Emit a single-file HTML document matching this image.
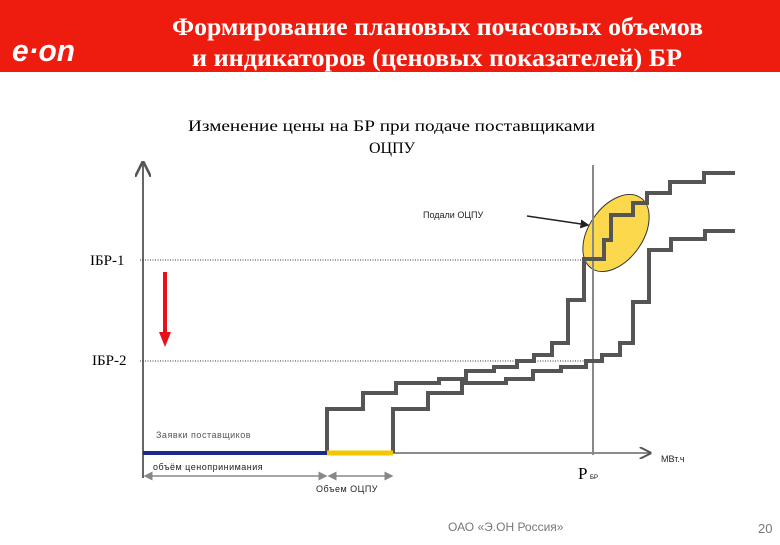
<!DOCTYPE html>
<html><head><meta charset="utf-8"><style>
body{margin:0;width:780px;height:540px;background:#fff;overflow:hidden;font-family:"Liberation Sans",sans-serif}
</style></head><body>
<svg width="780" height="540">
<rect x="0" y="0" width="780" height="72" fill="#ee1c0f"/>
<text x="12" y="61" fill="#fff" font-size="31" font-weight="bold" font-style="italic" font-family="Liberation Sans" textLength="63" lengthAdjust="spacingAndGlyphs">e·on</text>
<text x="172" y="35" fill="#fff" font-size="25" font-weight="bold" font-family="Liberation Serif" textLength="531" lengthAdjust="spacingAndGlyphs">Формирование плановых почасовых объемов</text>
<text x="192" y="66" fill="#fff" font-size="25" font-weight="bold" font-family="Liberation Serif" textLength="490" lengthAdjust="spacingAndGlyphs">и индикаторов (ценовых показателей) БР</text>
<text x="188" y="131" font-size="16" font-family="Liberation Serif" textLength="407" lengthAdjust="spacingAndGlyphs">Изменение цены на БР при подаче поставщиками</text>
<text x="392" y="153" font-size="16" text-anchor="middle" font-family="Liberation Serif">ОЦПУ</text>
<g id="plot"></g>
<text x="448" y="531" fill="#777" font-size="12">ОАО «Э.ОН Россия»</text>
<text x="758" y="533" fill="#777" font-size="13">20</text>
</svg>
<script>
const upperX=[0,36,69,112,139,167,190,207,225,241,257,277,284,306,320,343,377,408];
const upperY=[0,44,60,70,74,82,86,92,98,110,153,194,213,238,250,260,271,280];
const lowerX=[0,35,69,113,140,168,193,209,227,240,256,278,312,342];
const lowerY=[0,44,60,70,74,82,86,92,98,110,151,203,214,222];
const offsetX=[184,250];
const ibr=[193,92];
const pbr=450;
const ox=143, oy=453;
const sx=v=>ox+v, sy=v=>oy-v;
const NS="http://www.w3.org/2000/svg";
const g=document.getElementById('plot');
function mk(t,a,name){const e=document.createElementNS(NS,t);for(const k in a)e.setAttribute(k,a[k]);


g.appendChild(e);return e;}
const defs=mk('defs',{},'defs');
defs.innerHTML='<marker id="ah" markerWidth="8" markerHeight="8" refX="7" refY="4" orient="auto"><path d="M0,0 L8,4 L0,8" fill="none" stroke="#555" stroke-width="1.3"/></marker><marker id="ah2" markerWidth="6" markerHeight="6" refX="5" refY="3" orient="auto-start-reverse"><path d="M0,0 L6,3 L0,6Z" fill="#888"/></marker><marker id="ah3" markerWidth="6" markerHeight="6" refX="5" refY="3" orient="auto"><path d="M0,0 L6,3 L0,6Z" fill="#222"/></marker>';
mk('ellipse',{cx:616,cy:233,rx:27,ry:43,transform:'rotate(35 616 233)',fill:'#fcd94c',stroke:'#333','stroke-width':1},'ocpu-ellipse');
mk('line',{x1:ox,y1:oy+25,x2:ox,y2:163,stroke:'#666','stroke-width':2,'marker-end':'url(#ah)'},'y-axis');
mk('line',{x1:ox,y1:oy,x2:650,y2:oy,stroke:'#666','stroke-width':1.5,'marker-end':'url(#ah)'},'x-axis');
ibr.forEach((v,i)=>{mk('line',{x1:ox-3,y1:sy(v),x2:sx(pbr)-(i?4:9),y2:sy(v),stroke:'#333','stroke-width':1,'stroke-dasharray':'1,1.5'},'price-line-'+(i+1));});
mk('line',{x1:sx(pbr),y1:165,x2:sx(pbr),y2:oy+2,stroke:'#888','stroke-width':2},'pbr-line');
function stepPath(X,Y,start){let d='M'+sx(start)+','+sy(0);for(let i=1;i<X.length;i++){d+=' H'+sx(start+X[i-1])+' V'+sy(Y[i]);}d+=' H'+sx(start+X[X.length-1]);return d;}
mk('path',{d:stepPath(upperX,upperY,offsetX[0]),fill:'none',stroke:'#555','stroke-width':4},'offer-curve-before');
mk('path',{d:stepPath(lowerX,lowerY,offsetX[1]),fill:'none',stroke:'#555','stroke-width':4},'offer-curve-after');
mk('line',{x1:ox,y1:oy,x2:sx(offsetX[0]),y2:oy,stroke:'#1a2a8a','stroke-width':4},'price-taking-volume-bar');
mk('line',{x1:sx(offsetX[0]),y1:oy,x2:sx(offsetX[1]),y2:oy,stroke:'#f7c400','stroke-width':5},'ocpu-volume-bar');
mk('line',{x1:ox+2,y1:476,x2:sx(offsetX[0])-1,y2:476,stroke:'#888','stroke-width':1.5,'marker-start':'url(#ah2)','marker-end':'url(#ah2)'},'price-taking-dimension');
mk('line',{x1:sx(offsetX[0])+2,y1:476,x2:sx(offsetX[1])-1,y2:476,stroke:'#888','stroke-width':1.5,'marker-start':'url(#ah2)','marker-end':'url(#ah2)'},'ocpu-dimension');
mk('line',{x1:527,y1:216,x2:588,y2:225,stroke:'#222','stroke-width':1.5,'marker-end':'url(#ah3)'},'callout-arrow');
mk('line',{x1:165,y1:272,x2:165,y2:334,stroke:'#e8101a','stroke-width':4},'red-arrow-shaft');
mk('path',{d:'M159,332 L171,332 L165,347Z',fill:'#e8101a'},'red-arrow-head');
function tx(x,y,s,str,name,extra){const e=mk('text',Object.assign({x:x,y:y,'font-size':s},extra||{}),name);e.textContent=str;return e;}
tx(423,218,9,'Подали ОЦПУ','callout-label',{fill:'#222'});
tx(90,265,15,'IБР-1','ibr1-label',{'font-family':'Liberation Serif'});
tx(92,365,15,'IБР-2','ibr2-label',{'font-family':'Liberation Serif'});
tx(156,438,9,'Заявки поставщиков','suppliers-label',{fill:'#555','letter-spacing':'0.5'});
tx(153,470,9,'объём ценопринимания','price-taking-label',{fill:'#222','letter-spacing':'0.5'});
tx(316,492,9,'Объем ОЦПУ','ocpu-label',{fill:'#222','letter-spacing':'0.5'});
tx(578,479,17,'P','pbr-label',{'font-family':'Liberation Serif'});
tx(590,479,6,'БР','pbr-subscript',{});
tx(661,462,9,'МВт.ч','x-unit-label',{fill:'#222'});
</script>
</body></html>
